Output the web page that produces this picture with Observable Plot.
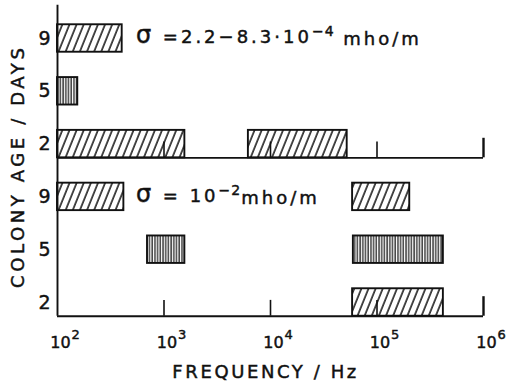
<!DOCTYPE html>
<html><head><meta charset="utf-8">
<script src="https://cdn.jsdelivr.net/npm/d3@7"></script>
<script src="https://cdn.jsdelivr.net/npm/@observablehq/plot@0.6"></script>
<style>
body{margin:0;background:#fff}
#chart svg{font-family:"DejaVu Sans",sans-serif;overflow:visible}
#chart svg text{stroke:#111;stroke-width:0.45px}
</style>
</head><body><div id="chart"></div>
<script>
// ---- data ----
const panels = ["low", "high"];                  // low conductivity (upper block), high conductivity (lower block)
const ages = [9, 5, 2];                          // colony age / days (row order within a block)
const barPanel = ["low","low","low","low","high","high","high","high","high"];
const barAge   = [9, 5, 2, 2, 9, 9, 5, 5, 2];
const barFrom  = [100, 100, 100, 6200, 100, 59000, 700, 60000, 59000];
const barTo    = [405, 155, 1570, 52500, 420, 203000, 1570, 420000, 420000];
const xTicks = [100, 1e3, 1e4, 1e5, 1e6];
const xTickExp = ["2", "3", "4", "5", "6"];
const notes = ["σ =2.2−8.3·10^{−4} mho/m", "σ = 10^{−2}mho/m"];
const yTitle = "COLONY AGE / DAYS";
const xTitle = "FREQUENCY / Hz";

// ---- derived layout (row slots) ----
const nRows = panels.length * ages.length;
const rowPos = (p, a) => nRows - (panels.indexOf(p) * ages.length + ages.indexOf(a));
const half = 0.26;
const rows = panels.flatMap(p => ages.map(a => ({panel: p, age: a, pos: rowPos(p, a)})));
const bars = barAge.map((a, i) => ({panel: barPanel[i], age: a, from: barFrom[i], to: barTo[i], pos: rowPos(barPanel[i], a)}));
const baselines = panels.map(p => ({panel: p, y: rowPos(p, ages[ages.length - 1]) - half}));
const tickRows = baselines.flatMap(b => xTicks.slice(1).map((t, i) => ({x: t, y: b.y, major: i === xTicks.length - 2})));
const noteData = notes.map((t, i) => ({text: t, pos: rowPos(panels[i], ages[0])}));
const tickLab = xTicks.map((t, i) => ({x: t, e: xTickExp[i]}));

const fillFor = a => a === 5 ? "url(#vhatch)" : "url(#dhatch)";

const plot = Plot.plot({
  width: 507, height: 384,
  marginLeft: 0, marginRight: 0, marginTop: 0, marginBottom: 0,
  x: {type: "log", domain: [100, 1e6], range: [57, 483], axis: null},
  y: {type: "linear", domain: [1, 6], range: [302, 38], axis: null},
  marks: [
    Plot.rectX(bars, {x1: "from", x2: "to", y1: d => d.pos - half, y2: d => d.pos + half,
      fill: d => fillFor(d.age), stroke: "#111", strokeWidth: 1.9}),
    Plot.ruleY(baselines, {y: "y", x1: 100, x2: 1e6, stroke: "#111", strokeWidth: 1.9}),
    Plot.ruleX(tickRows, {x: "x", y1: "y", y2: d => d.y + (d.major ? 0.37 : 0.3), stroke: "#111", strokeWidth: d => d.major ? 2.4 : 1.6}),
    Plot.ruleX([100], {x: d => d, y1: baselines[1].y, y2: 6.63, stroke: "#111", strokeWidth: 1.9}),
    Plot.text(rows, {x: 100, y: "pos", text: d => String(d.age), dx: -13, fontSize: 19, fill: "#111", textAnchor: "middle"}),
    Plot.text(tickLab, {x: "x", y: 0.24, text: () => "10", dx: 3, fontSize: 16, fill: "#111"}),
    Plot.text(tickLab, {x: "x", y: 0.38, text: "e", dx: 14, fontSize: 13, fill: "#111", textAnchor: "start"}),
    Plot.text(noteData, {x: 545, y: "pos", text: "text", dy: -1, fontSize: 18, fill: "#111", textAnchor: "start", className: "note"}),
    Plot.text([xTitle], {x: 9000, y: -0.33, text: d => d, fontSize: 18, fill: "#111", className: "spaced"}),
    Plot.text([yTitle], {x: 100, y: 3.58, text: d => d, dx: -39, rotate: -90, fontSize: 18, fill: "#111", className: "spacedY"})
  ]
});

const svg = d3.select(plot);
const defs = svg.insert("defs", ":first-child");
const dh = defs.append("pattern").attr("id", "dhatch").attr("patternUnits", "userSpaceOnUse")
  .attr("width", 6.6).attr("height", 10).attr("patternTransform", "rotate(22)");
dh.append("rect").attr("width", 6.6).attr("height", 10).attr("fill", "#fff");
dh.append("line").attr("x1", 1).attr("x2", 1).attr("y1", 0).attr("y2", 10).attr("stroke", "#111").attr("stroke-width", 1.5);
const vh = defs.append("pattern").attr("id", "vhatch").attr("patternUnits", "userSpaceOnUse")
  .attr("width", 2.7).attr("height", 10);
vh.append("rect").attr("width", 2.7).attr("height", 10).attr("fill", "#fff");
vh.append("line").attr("x1", 1).attr("x2", 1).attr("y1", 0).attr("y2", 10).attr("stroke", "#222").attr("stroke-width", 1.3);

svg.selectAll(".spaced text").style("letter-spacing", "2.6px");
svg.selectAll(".spacedY text").style("letter-spacing", "3.6px");
svg.selectAll(".note text").style("letter-spacing", "3px").each(function() {
  const t = d3.select(this);
  const s = t.text();
  const m = s.match(/^(.*)\^\{(.*)\}(.*)$/);
  if (!m) return;
  t.text(null);
  const head = m[1];
  if (head.startsWith("σ")) {
    t.append("tspan").style("font-size", "24px").text("σ");
    t.append("tspan").text(head.slice(1));
  } else {
    t.append("tspan").text(head);
  }
  t.append("tspan").attr("dy", "-0.5em").style("font-size", "14px").style("letter-spacing", "1px").text(m[2]);
  t.append("tspan").attr("dy", "0.5em").text(m[3]);
});
document.getElementById("chart").appendChild(plot);
</script>
</body></html>
